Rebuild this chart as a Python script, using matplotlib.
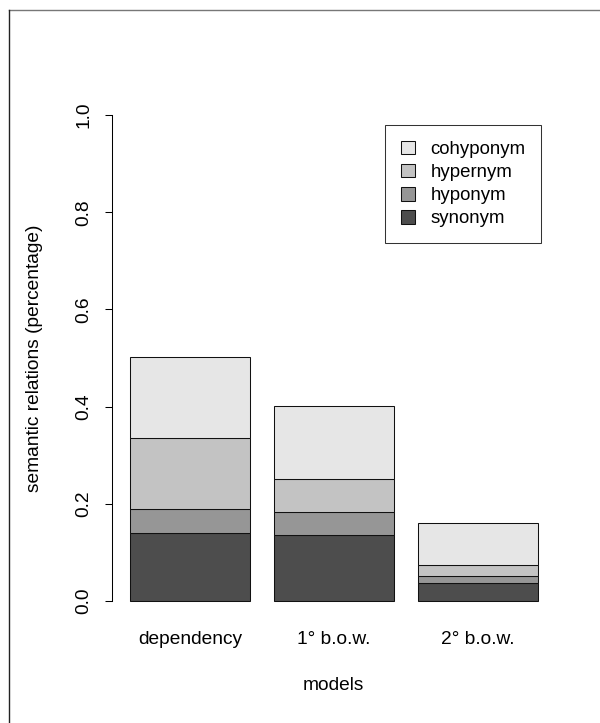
import numpy as np
import matplotlib.pyplot as plt
from matplotlib.lines import Line2D

plt.rcParams["font.family"] = ["Liberation Sans", "DejaVu Sans"]

# data
models = ["dependency", "1° b.o.w.", "2° b.o.w."]
relations = ["synonym", "hyponym", "hypernym", "cohyponym"]
synonym = [0.140, 0.136, 0.036]
hyponym = [0.049, 0.048, 0.015]
hypernym = [0.146, 0.068, 0.022]
cohyponym = [0.168, 0.149, 0.088]
colors = ["#4D4D4D", "#969696", "#C3C3C3", "#E6E6E6"]

FS = 13.8

W, H = 600, 723
fig = plt.figure(figsize=(W / 100, H / 100), dpi=100)
ax = fig.add_axes([113.7 / W, 1 - 620.4 / H, (554 - 113.7) / W, (620.4 - 95.6) / H])

# R barplot style: width 1, space 0.2
x = 0.2 + np.arange(len(models)) * 1.2 + 0.5
bottom = np.zeros(len(models))
bars = []
for vals, col, name in zip([synonym, hyponym, hypernym, cohyponym], colors, relations):
    b = ax.bar(x, vals, width=1.0, bottom=bottom, color=col,
               edgecolor="#111111", linewidth=0.75, label=name)
    bars.append(b)
    bottom += np.array(vals)

ax.set_xlim(0.2 - 0.136, 3.6 + 0.136)
ax.set_ylim(-0.04, 1.04)

for s in ["top", "right", "bottom"]:
    ax.spines[s].set_visible(False)
ax.spines["left"].set_bounds(0, 1)
ax.spines["left"].set_position(("outward", 1.5))
ax.spines["left"].set_linewidth(0.75)

ax.set_yticks([0.0, 0.2, 0.4, 0.6, 0.8, 1.0])
ax.set_yticklabels(["0.0", "0.2", "0.4", "0.6", "0.8", "1.0"],
                   rotation=90, va="center", fontsize=FS)
ax.tick_params(axis="y", length=5.4, width=0.75, pad=8.5)
ax.set_xticks(x)
ax.set_xticklabels(models, fontsize=FS)
ax.tick_params(axis="x", length=0, pad=7.5)

ax.set_xlabel("models", fontsize=FS, labelpad=21)
ax.set_ylabel("semantic relations (percentage)", fontsize=FS, labelpad=23)

handles = bars[::-1]
leg = ax.legend(handles, relations[::-1], loc="upper left",
                bbox_to_anchor=(385 / W, 1 - 125 / H), bbox_transform=fig.transFigure,
                fontsize=FS * 0.97, frameon=True, fancybox=False, borderpad=0.85,
                handlelength=0.75, handleheight=0.75, handletextpad=0.85,
                labelspacing=0.31, borderaxespad=0)
leg.get_frame().set_edgecolor("black")
leg.get_frame().set_linewidth(0.75)

# page frame lines from the screenshot
fig.add_artist(Line2D([9 / W, 1], [1 - 10 / H, 1 - 10 / H], transform=fig.transFigure,
                      color="#777777", linewidth=1.0))
fig.add_artist(Line2D([9 / W, 9 / W], [0, 1 - 10 / H], transform=fig.transFigure,
                      color="#222222", linewidth=1.0))

fig.savefig("out.png", dpi=100)
